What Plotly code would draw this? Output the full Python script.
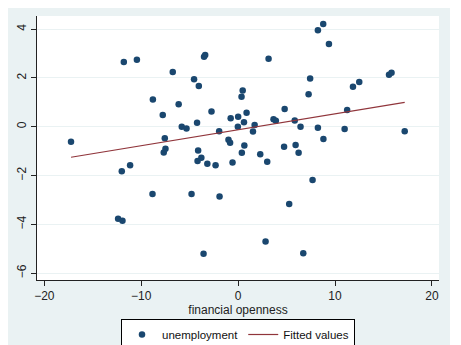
import plotly.graph_objects as go

# Data
fin_open = [-17.25, -11.8, -10.45, -6.75, -8.8, -7.78, -6.14, -4.55, -4.06, -3.52,
            -3.4, -2.75, -5.82, -5.33, -4.24, -1.96, -7.57, -0.77, 0.0, -0.03,
            -1.0, -0.83, -4.13, -7.68, -7.5, -4.19, -3.8, -3.18, -2.33, -0.58,
            0.47, 0.35, 0.87, 0.6, 1.7, 1.53, 4.8, 3.65, 3.89, 5.84,
            6.44, 0.64, 0.38, 2.28, 4.74, 5.93, 6.24, 3.0, 3.14, 8.23,
            8.78, 9.37, 7.43, 7.27, 11.85, 12.5, 15.57, 15.83, 11.25, 17.19,
            10.99, 8.23, 8.8, -1.92, 7.68, 5.27, 2.83, 6.72, -12.39, -11.94,
            -12.01, -11.15, -8.84, -4.81, -3.57]
unemployment = [-0.61, 2.65, 2.75, 2.24, 1.12, 0.48, 0.92, 1.95, 1.67, 2.87,
                2.94, 0.63, 0.0, -0.07, 0.16, -0.18, -0.47, 0.35, 0.41, 0.0,
                -0.53, -0.65, -0.97, -1.05, -0.9, -1.4, -1.27, -1.52, -1.58, -1.46,
                1.49, 1.23, 0.57, 0.19, 0.07, -0.19, 0.73, 0.31, 0.25, 0.26,
                0.0, -0.77, -1.06, -1.13, -0.82, -0.75, -1.06, -1.43, 2.79, 3.96,
                4.21, 3.39, 1.98, 1.33, 1.64, 1.83, 2.13, 2.21, 0.69, -0.18,
                -0.09, -0.04, -0.5, -2.86, -2.18, -3.17, -4.70, -5.18, -3.77, -3.85,
                -1.82, -1.58, -2.76, -2.76, -5.2]

fit_x = [-17.25, 17.19]
fit_y = [-1.25, 1.0]

x_ticks = [-20, -10, 0, 10, 20]
y_ticks = [-6, -4, -2, 0, 2, 4]

NAVY = "#1A476F"
MAROON = "#90353B"
REGION = "#EAF2F3"

fig = go.Figure()
fig.add_trace(go.Scatter(
    x=fin_open, y=unemployment, mode="markers", name="unemployment",
    marker=dict(color=NAVY, size=6.5, line=dict(width=0)),
))
fig.add_trace(go.Scatter(
    x=fit_x, y=fit_y, mode="lines", name="Fitted values",
    line=dict(color=MAROON, width=1.2),
))

# the page body adds an 8px offset; target screen pixels are shifted accordingly
OFF = 8
L, R, T, B = 37.3 - OFF, 439.0 - OFF, 16.0 - OFF, 280.0 - OFF
W, H = 461 - OFF, 345 - OFF
pw, ph = R - L, B - T

def px_x(p):
    return (p - OFF - L) / pw

def px_y(p):
    return (B - (p - OFF)) / ph

shapes = [
    dict(type="rect", xref="paper", yref="paper", layer="below",
         x0=px_x(0), x1=px_x(450), y0=px_y(350), y1=px_y(0),
         fillcolor=REGION, line=dict(width=0)),
    dict(type="rect", xref="paper", yref="paper", layer="below",
         x0=0, x1=1, y0=0, y1=1, fillcolor="white", line=dict(width=0)),
]

fig.update_layout(
    width=W, height=H,
    margin=dict(l=L, r=W - R, t=T, b=H - B, autoexpand=False),
    paper_bgcolor="white", plot_bgcolor="white",
    font=dict(family="Liberation Sans, Arial, sans-serif", size=12, color="#222"),
    shapes=shapes,
    showlegend=True,
    legend=dict(orientation="h", x=0.5, xanchor="center", y=px_y(319), yanchor="top",
                bgcolor="white", bordercolor="black", borderwidth=1,
                font=dict(size=11.5, color="#111"), itemwidth=30,
                tracegroupgap=0),
)
fig.update_xaxes(
    range=[-20.76, 20.73], tickvals=x_ticks, ticks="outside", ticklen=5,
    tickcolor="#222", showline=True, linecolor="#222", linewidth=1,
    showgrid=False, zeroline=False, mirror=False, automargin=False,
    title=dict(text="financial openness", standoff=3, font=dict(size=12)),
)
fig.update_yaxes(
    range=[-6.28, 4.54], tickvals=y_ticks, ticks="outside", ticklen=5,
    tickcolor="#222", showline=True, linecolor="#222", linewidth=1,
    showgrid=True, gridcolor=REGION, gridwidth=1.2, zeroline=False,
    tickangle=-90, automargin=False,
)

fig.write_html("out.html")
